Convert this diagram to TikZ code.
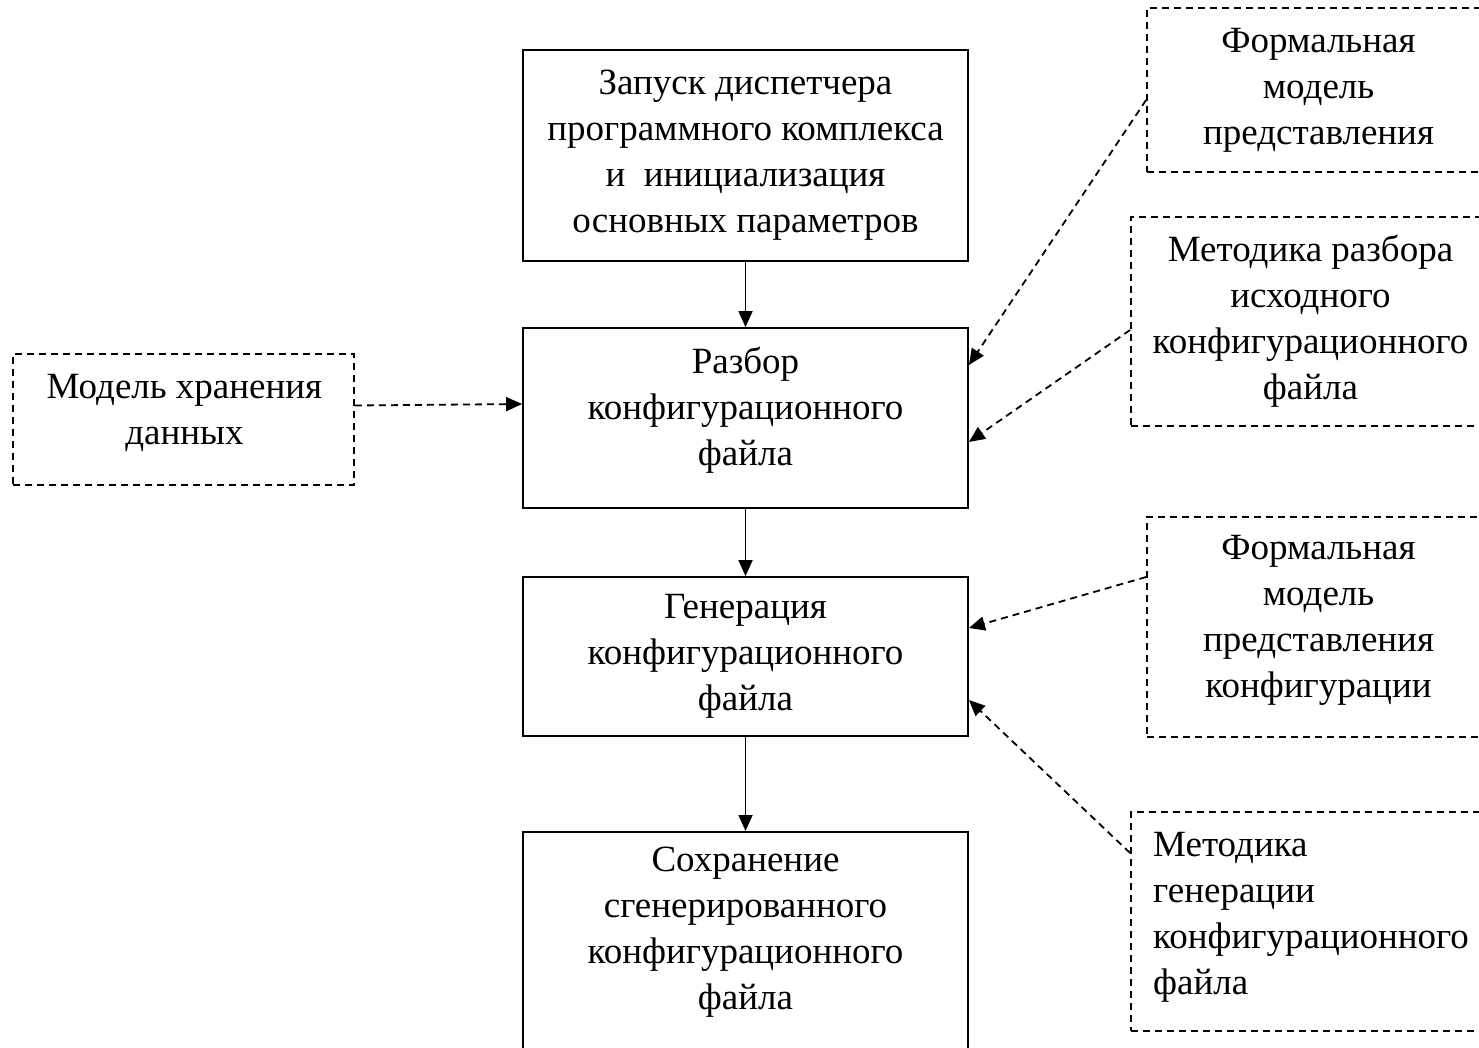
\documentclass[tikz,border=0pt]{standalone}
\usepackage{fontspec}
\setmainfont{Liberation Serif}
\usetikzlibrary{arrows.meta,calc}
\begin{document}
\begin{tikzpicture}[x=1pt,y=-1pt,
  mainbox/.style={draw=black,line width=1.8pt,rectangle,minimum width=445pt,align=center,inner sep=0pt},
  sidebox/.style={draw=black,line width=1.8pt,dash pattern=on 7pt off 5pt,rectangle,align=center,inner sep=0pt},
  txt/.style={align=center,inner sep=0pt},
  flow/.style={line width=1.8pt,-{Triangle[length=16pt,width=14pt]}},
  dflow/.style={line width=1.8pt,dash pattern=on 7pt off 5pt,-{Triangle[length=16pt,width=14pt]}},
  font=\fontsize{37}{46}\selectfont]
\useasboundingbox (0,0) rectangle (1479,1048);
\clip (0,0) rectangle (1479,1048);
\fill[white] (0,0) rectangle (1479,1048);

% main column
\node[mainbox,minimum height=211pt] (b1) at (745.5,155.5)
  {Запуск диспетчера\\программного комплекса\\и\ \ инициализация\\основных параметров};
\node[mainbox,minimum height=180pt] (b2) at (745.5,418) {};
\node[txt] (b2t) at (745.5,410)
  {Разбор\\конфигурационного\\файла};
\node[mainbox,minimum height=159pt] (b3) at (745.5,656.5)
  {Генерация\\конфигурационного\\файла};
\node[mainbox,minimum height=260pt,anchor=north] (b4box) at (745.5,831) {};
\node[txt] (b4) at (745.5,932)
  {Сохранение\\сгенерированного\\конфигурационного\\файла};

% left box
\node[sidebox,minimum width=341pt,minimum height=131pt] (m) at (183.5,419.5) {};
\node[txt] (mt) at (184.5,412.5) {Модель хранения\\данных};

% right boxes
\node[sidebox,minimum width=343pt,minimum height=164pt] (r1) at (1318.5,90)
  {Формальная\\модель\\представления};
\node[sidebox,minimum width=359pt,minimum height=209pt] (r2) at (1310.5,321.5)
  {Методика разбора\\исходного\\конфигурационного\\файла};
\node[sidebox,minimum width=343pt,minimum height=220pt] (r3) at (1318.5,627) {};
\node[txt] (r3t) at (1318.5,620)
  {Формальная\\модель\\представления\\конфигурации};
\node[sidebox,minimum width=359pt,minimum height=219pt,align=left,text width=315pt,inner xsep=22pt] (r4) at (1310.5,921.5) {};
\node[txt,align=left,anchor=west] (r4t) at (1153,917)
  {Методика\\генерации\\конфигурационного\\файла};

% solid flow
\draw[flow] (b1.south) -- (b2.north);
\draw[flow] (b2.south) -- (b3.north);
\draw[flow] (b3.south) -- (b4box.north);

% dashed inputs
\draw[dflow] ([yshift=14pt]m.east) -- ([yshift=14pt]b2.west);
\draw[dflow] ([yshift=-10pt]r1.west) -- ([yshift=53pt]b2.east);
\draw[dflow] ([yshift=-8.5pt]r2.west) -- ([yshift=-24pt]b2.east);
\draw[dflow] ([yshift=50pt]r3.west) -- ([yshift=28.5pt]b3.east);
\draw[dflow] ([yshift=68.5pt]r4.west) -- ([yshift=-43.5pt]b3.east);
\end{tikzpicture}
\end{document}
